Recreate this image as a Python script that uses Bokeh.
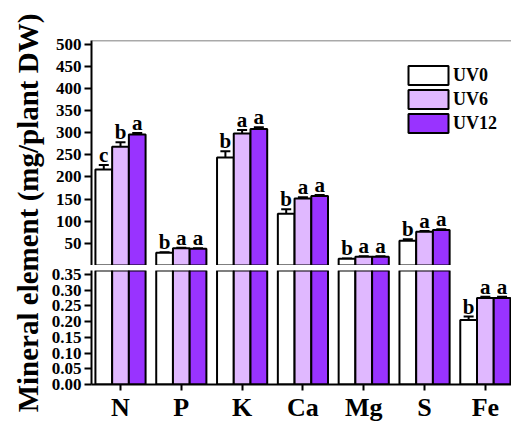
import numpy as np
from bokeh.plotting import figure
from bokeh.models import (ColumnDataSource, Range1d, FixedTicker, Whisker, TeeHead,
                          Span, Legend, LegendItem, PrintfTickFormatter, Label)
from bokeh.layouts import row, column
from bokeh.transform import dodge
from bokeh.core.properties import value
from bokeh.embed import file_html
from bokeh.resources import INLINE

# ---------------- data ----------------
elements = ["N", "P", "K", "Ca", "Mg", "S", "Fe"]
series = ["UV0", "UV6", "UV12"]
uv0 = [217, 29, 244, 117, 15, 56, 0.205]
uv6 = [268, 39, 298, 151, 20, 76, 0.275]
uv12 = [296, 38, 308, 157, 20, 80, 0.275]
err0 = [10, 1, 14, 10, 1, 3, 0.011]
err6 = [10, 1, 8, 3, 1, 2, 0.004]
err12 = [3, 1, 4, 2, 1, 2, 0.004]
let0 = ["c", "b", "b", "b", "b", "b", "b"]
let6 = ["b", "a", "a", "a", "a", "a", "a"]
let12 = ["a", "a", "a", "a", "a", "a", "a"]
upper_ticks = [50, 100, 150, 200, 250, 300, 350, 400, 450, 500]
lower_ticks = [0.0, 0.05, 0.10, 0.15, 0.20, 0.25, 0.30, 0.35]
ylabel = "Mineral element (mg/plant DW)"

# ---------------- style ----------------
FONT = "Liberation Serif"
colors = ["#FFFFFF", "#E0B8FF", "#9933FF"]
BW = 0.275
offsets = [-BW, 0.0, BW]
x_pos = list(range(1, len(elements) + 1))
upper_idx = [0, 1, 2, 3, 4, 5]   # elements shown on the upper (mg) segment
lower_idx = [6]                  # elements whose values live on the lower segment

vals = [uv0, uv6, uv12]
errs = [err0, err6, err12]
lets = [let0, let6, let12]


def src(k, idx):
    return ColumnDataSource(dict(
        x=[x_pos[i] for i in idx],
        top=[vals[k][i] for i in idx],
        lower=[vals[k][i] - errs[k][i] for i in idx],
        upper=[vals[k][i] + errs[k][i] for i in idx],
        letter=[lets[k][i] for i in idx],
    ))


def style_axes(p):
    for ax in p.axis:
        ax.axis_line_width = 2
        ax.axis_line_color = "black"
        ax.major_tick_line_width = 2
        ax.major_tick_line_color = "black"
        ax.major_tick_in = 0
        ax.minor_tick_line_color = None
        ax.major_label_text_font = FONT
        ax.major_label_text_font_style = "bold"
        ax.major_label_text_color = "black"
    p.grid.visible = False
    p.outline_line_color = None


x_range = Range1d(0.523, 7.43)

# ---------------- upper segment ----------------
top = figure(width=464, height=265, x_range=x_range, y_range=Range1d(0, 508),
             output_backend="svg", toolbar_location=None, x_axis_location=None,
             min_border_left=44, min_border_right=0, min_border_top=40, min_border_bottom=0)

# ---------------- lower segment ----------------
bot = figure(width=464, height=159, x_range=x_range, y_range=Range1d(0, 0.3626),
             output_backend="svg", toolbar_location=None,
             min_border_left=44, min_border_right=0, min_border_top=5, min_border_bottom=39)

renderers = []
for k in range(3):
    for p, idx in ((top, upper_idx), (bot, list(range(len(elements))))):
        s = src(k, idx)
        xs = dodge("x", offsets[k], range=p.x_range)
        r = p.vbar(x=xs, top="top", bottom=0, width=BW, source=s,
                   fill_color=colors[k], line_color="black", line_width=2)
        if p is top:
            renderers.append(r)
    # error bars + letters
    for p, idx in ((top, upper_idx), (bot, lower_idx)):
        s = src(k, idx)
        xs = dodge("x", offsets[k], range=p.x_range)
        w = Whisker(base=xs, lower="lower", upper="upper", source=s,
                    line_width=2, line_color="black",
                    upper_head=TeeHead(size=10, line_width=2, line_color="black"),
                    lower_head=TeeHead(size=10, line_width=2, line_color="black"))
        p.add_layout(w)
        p.text(x=xs, y="upper", text="letter", source=s, text_align="center",
               text_baseline="alphabetic", y_offset=-10, text_font=value(FONT),
               text_font_style="bold", text_font_size="21px", text_color="black")

style_axes(top)
top.yaxis.ticker = FixedTicker(ticks=upper_ticks)
top.yaxis.major_tick_out = 7
top.yaxis.major_label_standoff = 3
top.yaxis.major_label_text_font_size = "17px"
top.add_layout(Span(location=508, dimension="width", line_color="#555555", line_width=1.5))

legend = Legend(items=[LegendItem(label=series[k], renderers=[renderers[k]]) for k in range(3)],
                location=(312, 130), padding=0, margin=0, spacing=0,
                glyph_width=50, glyph_height=24, label_standoff=0,
                border_line_color=None, background_fill_alpha=0,
                label_text_font=FONT, label_text_font_style="bold",
                label_text_font_size="18px", label_text_color="black")
top.add_layout(legend)

style_axes(bot)
bot.yaxis.ticker = FixedTicker(ticks=lower_ticks)
bot.yaxis.formatter = PrintfTickFormatter(format="%.2f")
bot.yaxis.major_tick_out = 7
bot.yaxis.major_label_standoff = 3
bot.yaxis.major_label_text_font_size = "17px"
bot.xaxis.ticker = FixedTicker(ticks=x_pos)
bot.xaxis.major_label_overrides = {x: e for x, e in zip(x_pos, elements)}
bot.xaxis.major_tick_out = 6
bot.xaxis.major_label_standoff = 2
bot.xaxis.major_label_text_font_size = "26px"

# ---------------- y label ----------------
lab = figure(width=47, height=424, x_range=Range1d(0, 47), y_range=Range1d(0, 424),
             output_backend="svg", toolbar_location=None, min_border=0,
             x_axis_location=None, y_axis_location=None)
lab.grid.visible = False
lab.outline_line_color = None
lab.add_layout(Label(x=27, y=211.5, x_units="screen", y_units="screen", text=ylabel,
                     angle=np.pi / 2, text_align="center", text_baseline="alphabetic",
                     text_font=FONT, text_font_style="bold", text_font_size="29px",
                     text_color="black"))

layout = row(lab, column(top, bot))
open("out.html", "w").write(file_html(layout, INLINE))
